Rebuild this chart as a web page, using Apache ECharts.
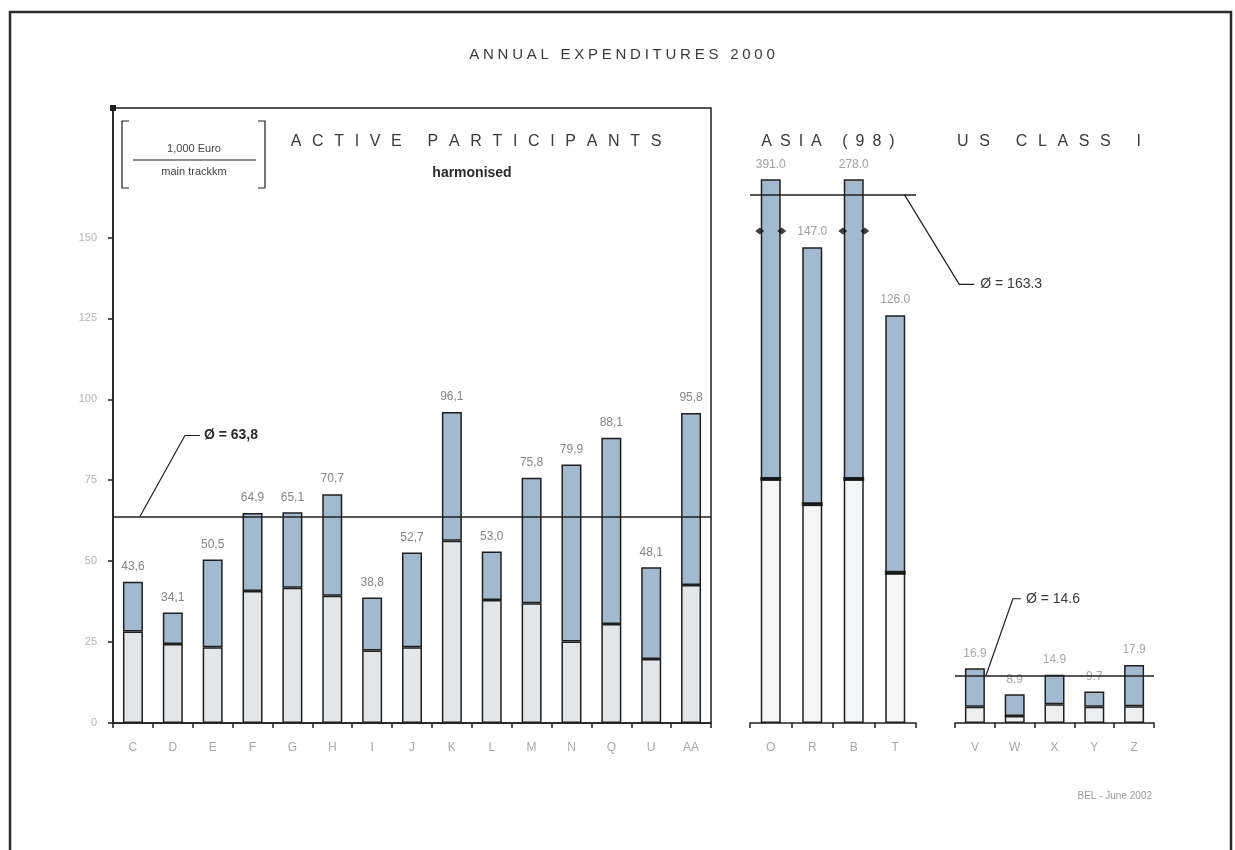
<!DOCTYPE html>
<html>
<head>
<meta charset="utf-8">
<script src="https://cdn.jsdelivr.net/npm/echarts@6/dist/echarts.min.js"></script>
<style>
  html, body { margin: 0; padding: 0; background: #ffffff; }
  #chart { width: 1235px; height: 850px; }
</style>
</head>
<body>
<div id="chart"></div>
<script>
// Active participants (harmonised), 1,000 Euro per main track-km
const activeCats  = ['C','D','E','F','G','H','I','J','K','L','M','N','Q','U','AA'];
const activeTotal = [43.6, 34.1, 50.5, 64.9, 65.1, 70.7, 38.8, 52.7, 96.1, 53.0, 75.8, 79.9, 88.1, 48.1, 95.8];
const activeLower = [28.3, 24.4, 23.4, 40.8, 41.8, 39.3, 22.4, 23.4, 56.3, 38.0, 37.0, 25.2, 30.6, 19.8, 42.6];
const activeAvg = 63.8;

// Asia (1998)
const asiaCats  = ['O','R','B','T'];
const asiaTotal = [391.0, 147.0, 278.0, 126.0];
const asiaLower = [75.4, 67.6, 75.4, 46.4];
const asiaAvg = 163.3;
const asiaBreakAt = 152;   // where the scale break is marked on bars running off the axis

// US Class I
const usCats  = ['V','W','X','Y','Z'];
const usTotal = [16.9, 8.9, 14.9, 9.7, 17.9];
const usLower = [5.0, 2.2, 5.8, 5.0, 5.2];
const usAvg = 14.6;

const yTickValues = [0, 25, 50, 75, 100, 125, 150];

// shared vertical scale: all three panels sit on the same baseline with the same px per unit
const BASE = 723, TOP_MAIN = 108, TOP_ASIA = 180, H = 850;
const Y_MAX = 190;
const ASIA_MAX = Y_MAX * (BASE - TOP_ASIA) / (BASE - TOP_MAIN);

const FONT = '"Liberation Sans", Arial, "DejaVu Sans", sans-serif';
const UPPER = '#a3b9cf';
const EDGE = '#1f1f1f';

const comma = v => v.toFixed(1).replace('.', ',');
const dot = v => v.toFixed(1);
const spaced = (s, gap) => s.split(' ').map(w => w.split('').join(gap)).join(gap + ' ' + gap);

const upper = (tot, low) => tot.map((t, i) => +(t - low[i]).toFixed(2));

function xAxisFor(grid, cats) {
  return {
    type: 'category', gridIndex: grid, data: cats,
    axisLine: { show: true, lineStyle: { color: EDGE, width: 1.5 } },
    axisTick: { show: true, interval: 0, length: 5, lineStyle: { color: EDGE, width: 1.5 } },
    axisLabel: { color: '#a8a8a8', fontSize: 12, fontFamily: FONT, margin: 19, interval: 0 }
  };
}
function hiddenY(grid, max) {
  return { type: 'value', gridIndex: grid, min: 0, max: max, show: false, splitLine: { show: false } };
}
function avgLine(v) {
  return {
    silent: true, symbol: 'none', label: { show: false },
    lineStyle: { color: EDGE, width: 1.5, type: 'solid' },
    data: [{ yAxis: v }]
  };
}
function barPair(grid, lowerData, totalData, lowerColor, fmt, labelColor) {
  const common = { type: 'bar', xAxisIndex: grid, yAxisIndex: grid, stack: 's' + grid, barWidth: 20 };
  return [
    Object.assign({}, common, {
      name: 'lower' + grid, data: lowerData,
      itemStyle: { color: lowerColor, borderColor: EDGE, borderWidth: 1.5 }
    }),
    Object.assign({}, common, {
      name: 'upper' + grid, data: upper(totalData, lowerData),
      itemStyle: { color: UPPER, borderColor: EDGE, borderWidth: 1.5 },
      label: {
        show: true, position: 'top', distance: 9,
        color: labelColor, fontSize: 12, fontFamily: FONT,
        formatter: p => fmt(totalData[p.dataIndex])
      }
    })
  ];
}

const chart = echarts.init(document.getElementById('chart'), null, { renderer: 'canvas' });

const series = [];
const activeBars = barPair(0, activeLower, activeTotal, '#e3e6e9', comma, '#858585');
activeBars[1].markLine = avgLine(activeAvg);
series.push(...activeBars);

const asiaBars = barPair(1, asiaLower, asiaTotal, '#f3f5f6', dot, '#a0a0a0');
asiaBars[1].markLine = avgLine(asiaAvg);
series.push(...asiaBars);

// scale-break marks on both edges of bars that exceed the axis
const breakData = asiaTotal.map(t => (t > ASIA_MAX ? asiaBreakAt : '-'));
[-11, 11].forEach(off => series.push({
  type: 'scatter', xAxisIndex: 1, yAxisIndex: 1, data: breakData, silent: true,
  symbol: 'diamond', symbolSize: [9, 7], symbolOffset: [off, 0],
  itemStyle: { color: '#111' }, z: 5
}));
// heavy join between the two parts of each Asia bar
series.push({
  type: 'scatter', xAxisIndex: 1, yAxisIndex: 1, data: asiaLower, silent: true,
  symbol: 'rect', symbolSize: [21, 4], itemStyle: { color: '#111' }, z: 5
});

const usBars = barPair(2, usLower, usTotal, '#eceeef', dot, '#a8a8a8');
usBars[1].markLine = avgLine(usAvg);
series.push(...usBars);

const option = {
  animation: false,
  backgroundColor: '#ffffff',
  textStyle: { fontFamily: FONT },
  grid: [
    { left: 113, width: 598, top: TOP_MAIN, bottom: H - BASE, show: true, borderColor: EDGE, borderWidth: 1.5, backgroundColor: 'transparent' },
    { left: 750, width: 166, top: TOP_ASIA, bottom: H - BASE },
    { left: 955, width: 199, top: TOP_MAIN, bottom: H - BASE }
  ],
  xAxis: [xAxisFor(0, activeCats), xAxisFor(1, asiaCats), xAxisFor(2, usCats)],
  yAxis: [
    {
      type: 'value', gridIndex: 0, min: 0, max: Y_MAX,
      axisLine: { show: true, lineStyle: { color: EDGE, width: 1.5 }, symbol: ['none', 'rect'], symbolSize: [6, 6] },
      axisTick: { show: true, length: 5, lineStyle: { color: EDGE, width: 1.5 }, customValues: yTickValues },
      axisLabel: { color: '#b2b2b2', fontSize: 11, fontFamily: FONT, margin: 16, customValues: yTickValues },
      splitLine: { show: false }
    },
    hiddenY(1, ASIA_MAX),
    hiddenY(2, Y_MAX)
  ],
  series: series
};
chart.setOption(option);

// annotation layer: titles, unit box, and leaders to the average lines
const P = (grid, idx, v) => chart.convertToPixel({ gridIndex: grid }, [idx, v]);
const pA = P(0, 0, activeAvg);
const pS = P(1, asiaCats.length - 1, asiaAvg);
const pU = P(2, 0, usAvg);

function leader(pts) {
  return { type: 'polyline', shape: { points: pts }, style: { stroke: EDGE, lineWidth: 1.2, fill: null }, silent: true };
}
function text(x, y, s, size, color, align, weight) {
  return {
    type: 'text', x: x, y: y, silent: true,
    style: { text: s, fontSize: size, fill: color, fontFamily: FONT, fontWeight: weight || 'normal',
             align: align || 'center', verticalAlign: 'middle' }
  };
}

const ax = pA[0] + 7, ay = pA[1];
const sx = pS[0] + 9, sy = pS[1];
const ux = pU[0] + 11, uy = pU[1];

const WIDE = '\u2002\u2006';

const graphics = [
  // page frame
  { type: 'rect', shape: { x: 10, y: 12, width: 1221, height: 860 }, style: { fill: null, stroke: '#2a2a2a', lineWidth: 2.5 }, silent: true },

  text(622, 55, spaced('ANNUAL EXPENDITURES 2000', '\u2005'), 15, '#3a3a3a'),
  text(476, 142, spaced('ACTIVE PARTICIPANTS', WIDE), 16, '#3a3a3a'),
  text(472, 173, 'harmonised', 14, '#2a2a2a', 'center', 'bold'),
  text(828, 142, spaced('ASIA (98)', '\u2002'), 16, '#3a3a3a'),
  text(1049, 142, spaced('US CLASS I', WIDE), 16, '#3a3a3a'),

  // unit box
  leader([[129, 121], [122, 121], [122, 188], [129, 188]]),
  leader([[258, 121], [265, 121], [265, 188], [258, 188]]),
  leader([[133, 160], [256, 160]]),
  text(194, 149, '1,000 Euro', 11, '#444'),
  text(194, 172, 'main trackkm', 11, '#444'),

  // average leaders
  leader([[ax, ay], [ax + 45, ay - 81], [ax + 60, ay - 81]]),
  text(ax + 64, ay - 81, 'Ø = 63,8', 14, '#2a2a2a', 'left', 'bold'),
  leader([[sx, sy], [sx + 55, sy + 90], [sx + 70, sy + 90]]),
  text(sx + 76, sy + 90, 'Ø = 163.3', 14, '#3a3a3a', 'left'),
  leader([[ux, uy], [ux + 27, uy - 77], [ux + 35, uy - 77]]),
  text(ux + 40, uy - 77, 'Ø = 14.6', 14, '#3a3a3a', 'left'),

  text(1152, 796, 'BEL - June 2002', 10, '#9a9a9a', 'right')
];
chart.setOption({ graphic: graphics });
</script>
</body>
</html>
